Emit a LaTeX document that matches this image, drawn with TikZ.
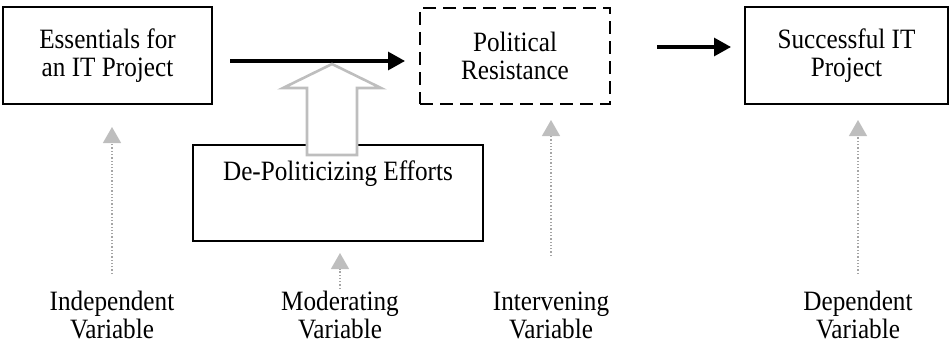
\documentclass[tikz,border=0pt]{standalone}
\usepackage{fontspec}
\setmainfont{Liberation Serif}[FakeStretch=0.9]
\usetikzlibrary{arrows.meta}
\definecolor{lgray}{RGB}{190,190,190}
\definecolor{dgray}{RGB}{165,165,165}
\tikzset{
  varbox/.style={draw=black, line width=2.9pt, align=center, inner sep=0pt},
  dashbox/.style={varbox, dash pattern=on 13pt off 7pt},
  blackarrow/.style={line width=3.1pt, -{Triangle[length=17pt,width=18pt]}},
  dotarrow/.style={dgray, line width=1.3pt, dotted, -{Triangle[length=16pt,width=18pt,fill=lgray,color=lgray]}},
  varlabel/.style={align=center, inner sep=0pt},
}
\begin{document}
\begin{tikzpicture}[x=1pt,y=-1pt,font=\fontsize{28}{28}\selectfont]
\useasboundingbox (0,0) rectangle (952,345);
% main boxes
\node[varbox, minimum width=209pt, minimum height=97pt] (ess) at (107.5,55.5) {Essentials for\\an IT Project};
\node[dashbox, minimum width=190pt, minimum height=96pt] (pol) at (515,56) {Political\\Resistance};
\node[varbox, minimum width=203pt, minimum height=97pt] (suc) at (846.5,55.5) {Successful IT\\Project};
\node[varbox, minimum width=290pt, minimum height=96pt] (dpe) at (338,193) {};
\node[inner sep=0pt] (dpet) at (338,174) {De-Politicizing Efforts};
% black arrows
\coordinate (a1s) at (230,61);
\coordinate (a1e) at (405,61);
\coordinate (a2s) at (657,47);
\coordinate (a2e) at (731,47);
\draw[blackarrow] (a1s) -- (a1e);
\draw[blackarrow] (a2s) -- (a2e);
% hollow moderating arrow
\draw[lgray, line width=2.6pt, fill=white, line join=miter]
  (307,155) -- (307,88) -- (283,88) -- (332,64) -- (381,88) -- (357,88) -- (357,155) -- cycle;
% labels
\node[varlabel] (ind) at (112,315) {Independent\\Variable};
\node[varlabel] (mod) at (340,315) {Moderating\\Variable};
\node[varlabel] (int) at (551,315) {Intervening\\Variable};
\node[varlabel] (dep) at (858,315) {Dependent\\Variable};
% dotted gray arrows
\coordinate (ind0) at (112,274);
\coordinate (ind1) at (112,127);
\coordinate (mod0) at (340,289);
\coordinate (mod1) at (340,253);
\coordinate (int0) at (551,256);
\coordinate (int1) at (551,120);
\coordinate (dep0) at (858,274);
\coordinate (dep1) at (858,120);
\draw[dotarrow] (ind0) -- (ind1);
\draw[dotarrow] (mod0) -- (mod1);
\draw[dotarrow] (int0) -- (int1);
\draw[dotarrow] (dep0) -- (dep1);
\end{tikzpicture}
\end{document}
